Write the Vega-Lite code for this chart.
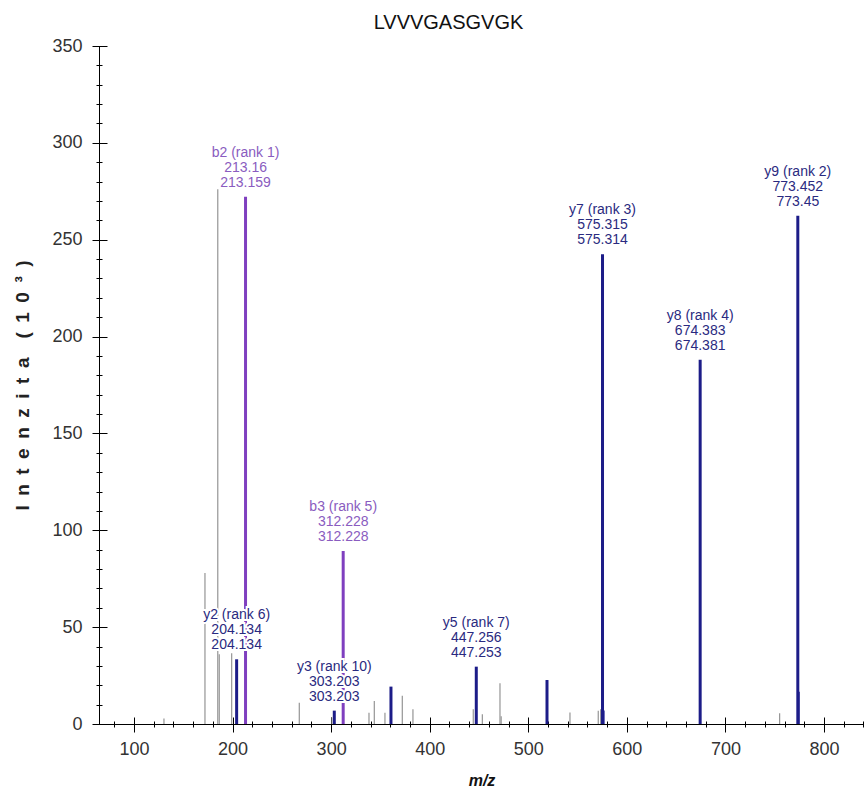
{
  "$schema": "https://vega.github.io/schema/vega-lite/v6.json",
  "width": 765,
  "height": 678,
  "autosize": "none",
  "padding": {"left": 99, "top": 46, "right": 0, "bottom": 66},
  "background": "white",
  "title": {"text": "LVVVGASGVGK", "font": "Liberation Sans", "fontSize": 20, "fontWeight": "normal", "color": "#111111", "anchor": "middle", "frame": "group", "dx": -33, "offset": 4},
  "config": {
    "view": {"stroke": null},
    "axis": {"grid": false, "labelFont": "Liberation Sans", "titleFont": "Liberation Sans", "domainColor": "#000000", "tickColor": "#000000", "labelColor": "#333333", "tickWidth": 1, "domainWidth": 1}
  },
  "data": {
    "values": [
      {"mz": 130.4, "int": 2.9, "type": "g"},
      {"mz": 172.0, "int": 78, "type": "g"},
      {"mz": 185.0, "int": 276, "type": "g"},
      {"mz": 186.5, "int": 36, "type": "g"},
      {"mz": 199.1, "int": 36.5, "type": "g"},
      {"mz": 267.7, "int": 11, "type": "g"},
      {"mz": 300.5, "int": 3.3, "type": "d"},
      {"mz": 338.4, "int": 5.8, "type": "g"},
      {"mz": 343.8, "int": 11.9, "type": "g"},
      {"mz": 354.6, "int": 5.8, "type": "g"},
      {"mz": 372.2, "int": 14.6, "type": "g"},
      {"mz": 383.0, "int": 7.6, "type": "g"},
      {"mz": 444.2, "int": 7.6, "type": "g"},
      {"mz": 453.4, "int": 5, "type": "g"},
      {"mz": 471.3, "int": 21, "type": "g"},
      {"mz": 472.5, "int": 4, "type": "g"},
      {"mz": 542.3, "int": 6, "type": "g"},
      {"mz": 571.0, "int": 6.9, "type": "g"},
      {"mz": 573.4, "int": 7.6, "type": "g"},
      {"mz": 755.0, "int": 5.5, "type": "g"},
      {"mz": 577.0, "int": 7, "type": "yl"},
      {"mz": 775.0, "int": 16.7, "type": "yl"},
      {"mz": 204.134, "int": 33.4, "type": "y", "label": "y2 (rank 6)\n204.134\n204.134"},
      {"mz": 213.16, "int": 272.2, "type": "b", "label": "b2 (rank 1)\n213.16\n213.159"},
      {"mz": 303.203, "int": 6.9, "type": "y", "label": "y3 (rank 10)\n303.203\n303.203"},
      {"mz": 312.228, "int": 89.3, "type": "b", "label": "b3 (rank 5)\n312.228\n312.228"},
      {"mz": 360.7, "int": 19.3, "type": "y"},
      {"mz": 447.256, "int": 29.6, "type": "y", "label": "y5 (rank 7)\n447.256\n447.253"},
      {"mz": 519.0, "int": 22.7, "type": "y"},
      {"mz": 575.315, "int": 242.5, "type": "y", "label": "y7 (rank 3)\n575.315\n575.314"},
      {"mz": 674.383, "int": 188, "type": "y", "label": "y8 (rank 4)\n674.383\n674.381"},
      {"mz": 773.452, "int": 262.4, "type": "y", "label": "y9 (rank 2)\n773.452\n773.45"}
    ]
  },
  "resolve": {"axis": {"x": "independent", "y": "independent"}},
  "layer": [
    {
      "transform": [{"filter": "datum.type === 'g' || datum.type === 'd' || datum.type === 'yl'"}],
      "mark": {"type": "rule", "strokeWidth": 1.2},
      "encoding": {
        "x": {"field": "mz", "type": "quantitative", "scale": {"domain": [64.5, 840.6], "nice": false, "zero": false},
          "axis": {"orient": "bottom", "values": [100, 200, 300, 400, 500, 600, 700, 800], "ticks": false, "tickSize": 0, "domain": true, "labelFontSize": 18, "labelPadding": 16, "labelFlush": false, "title": "m/z", "titleFontSize": 16, "titleFontWeight": "bold", "titleFontStyle": "italic", "titleColor": "#111111", "titleY": 56, "titleBaseline": "middle"}},
        "y": {"field": "int", "type": "quantitative", "scale": {"domain": [0, 350], "nice": false},
          "axis": {"orient": "left", "values": [0, 50, 100, 150, 200, 250, 300, 350], "ticks": false, "tickSize": 0, "domain": true, "labelFontSize": 18, "labelPadding": 17, "labelFlush": false, "title": "I\u2002n\u2002t\u2002e\u2002n\u2002z\u2002i\u2002t\u2002a\u2003(\u20021\u20020\u2002³\u2002)", "titleFontSize": 19, "titleFontWeight": "bold", "titleColor": "#222222", "titleX": -77, "titleY": 339, "titleAngle": -90, "titleAlign": "center", "titleBaseline": "middle"}},
        "y2": {"datum": 0},
        "color": {"field": "type", "type": "nominal", "scale": {"domain": ["g", "d", "yl", "b", "y"], "range": ["#959595", "#555555", "#4a4aa8", "#7f3fbf", "#1c1c88"]}, "legend": null}
      }
    },
    {
      "transform": [{"filter": "datum.type === 'b' || datum.type === 'y'"}],
      "mark": {"type": "rule", "strokeWidth": 3},
      "encoding": {
        "x": {"field": "mz", "type": "quantitative", "axis": null},
        "y": {"field": "int", "type": "quantitative", "axis": null},
        "y2": {"datum": 0},
        "color": {"field": "type", "type": "nominal", "legend": null}
      }
    },
    {
      "transform": [{"filter": "isValid(datum.label)"}],
      "mark": {"type": "text", "align": "center", "baseline": "bottom", "dy": -37, "fontSize": 14, "lineHeight": 15, "lineBreak": "\n", "font": "Liberation Sans", "fill": "white", "stroke": "white", "strokeWidth": 4},
      "encoding": {
        "x": {"field": "mz", "type": "quantitative",
          "axis": {"orient": "bottom", "values": [100, 200, 300, 400, 500, 600, 700, 800], "offset": -7, "tickSize": 15, "domain": false, "labels": false, "title": null}},
        "y": {"field": "int", "type": "quantitative",
          "axis": {"orient": "left", "values": [0, 50, 100, 150, 200, 250, 300, 350], "offset": -8, "tickSize": 15, "domain": false, "labels": false, "title": null}},
        "text": {"field": "label"}
      }
    },
    {
      "transform": [{"filter": "isValid(datum.label)"}],
      "mark": {"type": "text", "align": "center", "baseline": "bottom", "dy": -37, "fontSize": 14, "lineHeight": 15, "lineBreak": "\n", "font": "Liberation Sans"},
      "encoding": {
        "x": {"field": "mz", "type": "quantitative",
          "axis": {"orient": "bottom", "values": [80, 120, 140, 160, 180, 220, 240, 260, 280, 320, 340, 360, 380, 420, 440, 460, 480, 520, 540, 560, 580, 620, 640, 660, 680, 720, 740, 760, 780, 820, 840], "offset": -3, "tickSize": 6, "domain": false, "labels": false, "title": null}},
        "y": {"field": "int", "type": "quantitative",
          "axis": {"orient": "left", "values": [10, 20, 30, 40, 60, 70, 80, 90, 110, 120, 130, 140, 160, 170, 180, 190, 210, 220, 230, 240, 260, 270, 280, 290, 310, 320, 330, 340], "offset": -3, "tickSize": 6, "domain": false, "labels": false, "title": null}},
        "text": {"field": "label"},
        "fill": {"condition": {"test": "datum.type === 'b'", "value": "#8a5cc0"}, "value": "#2a2a80"}
      }
    }
  ]
}
